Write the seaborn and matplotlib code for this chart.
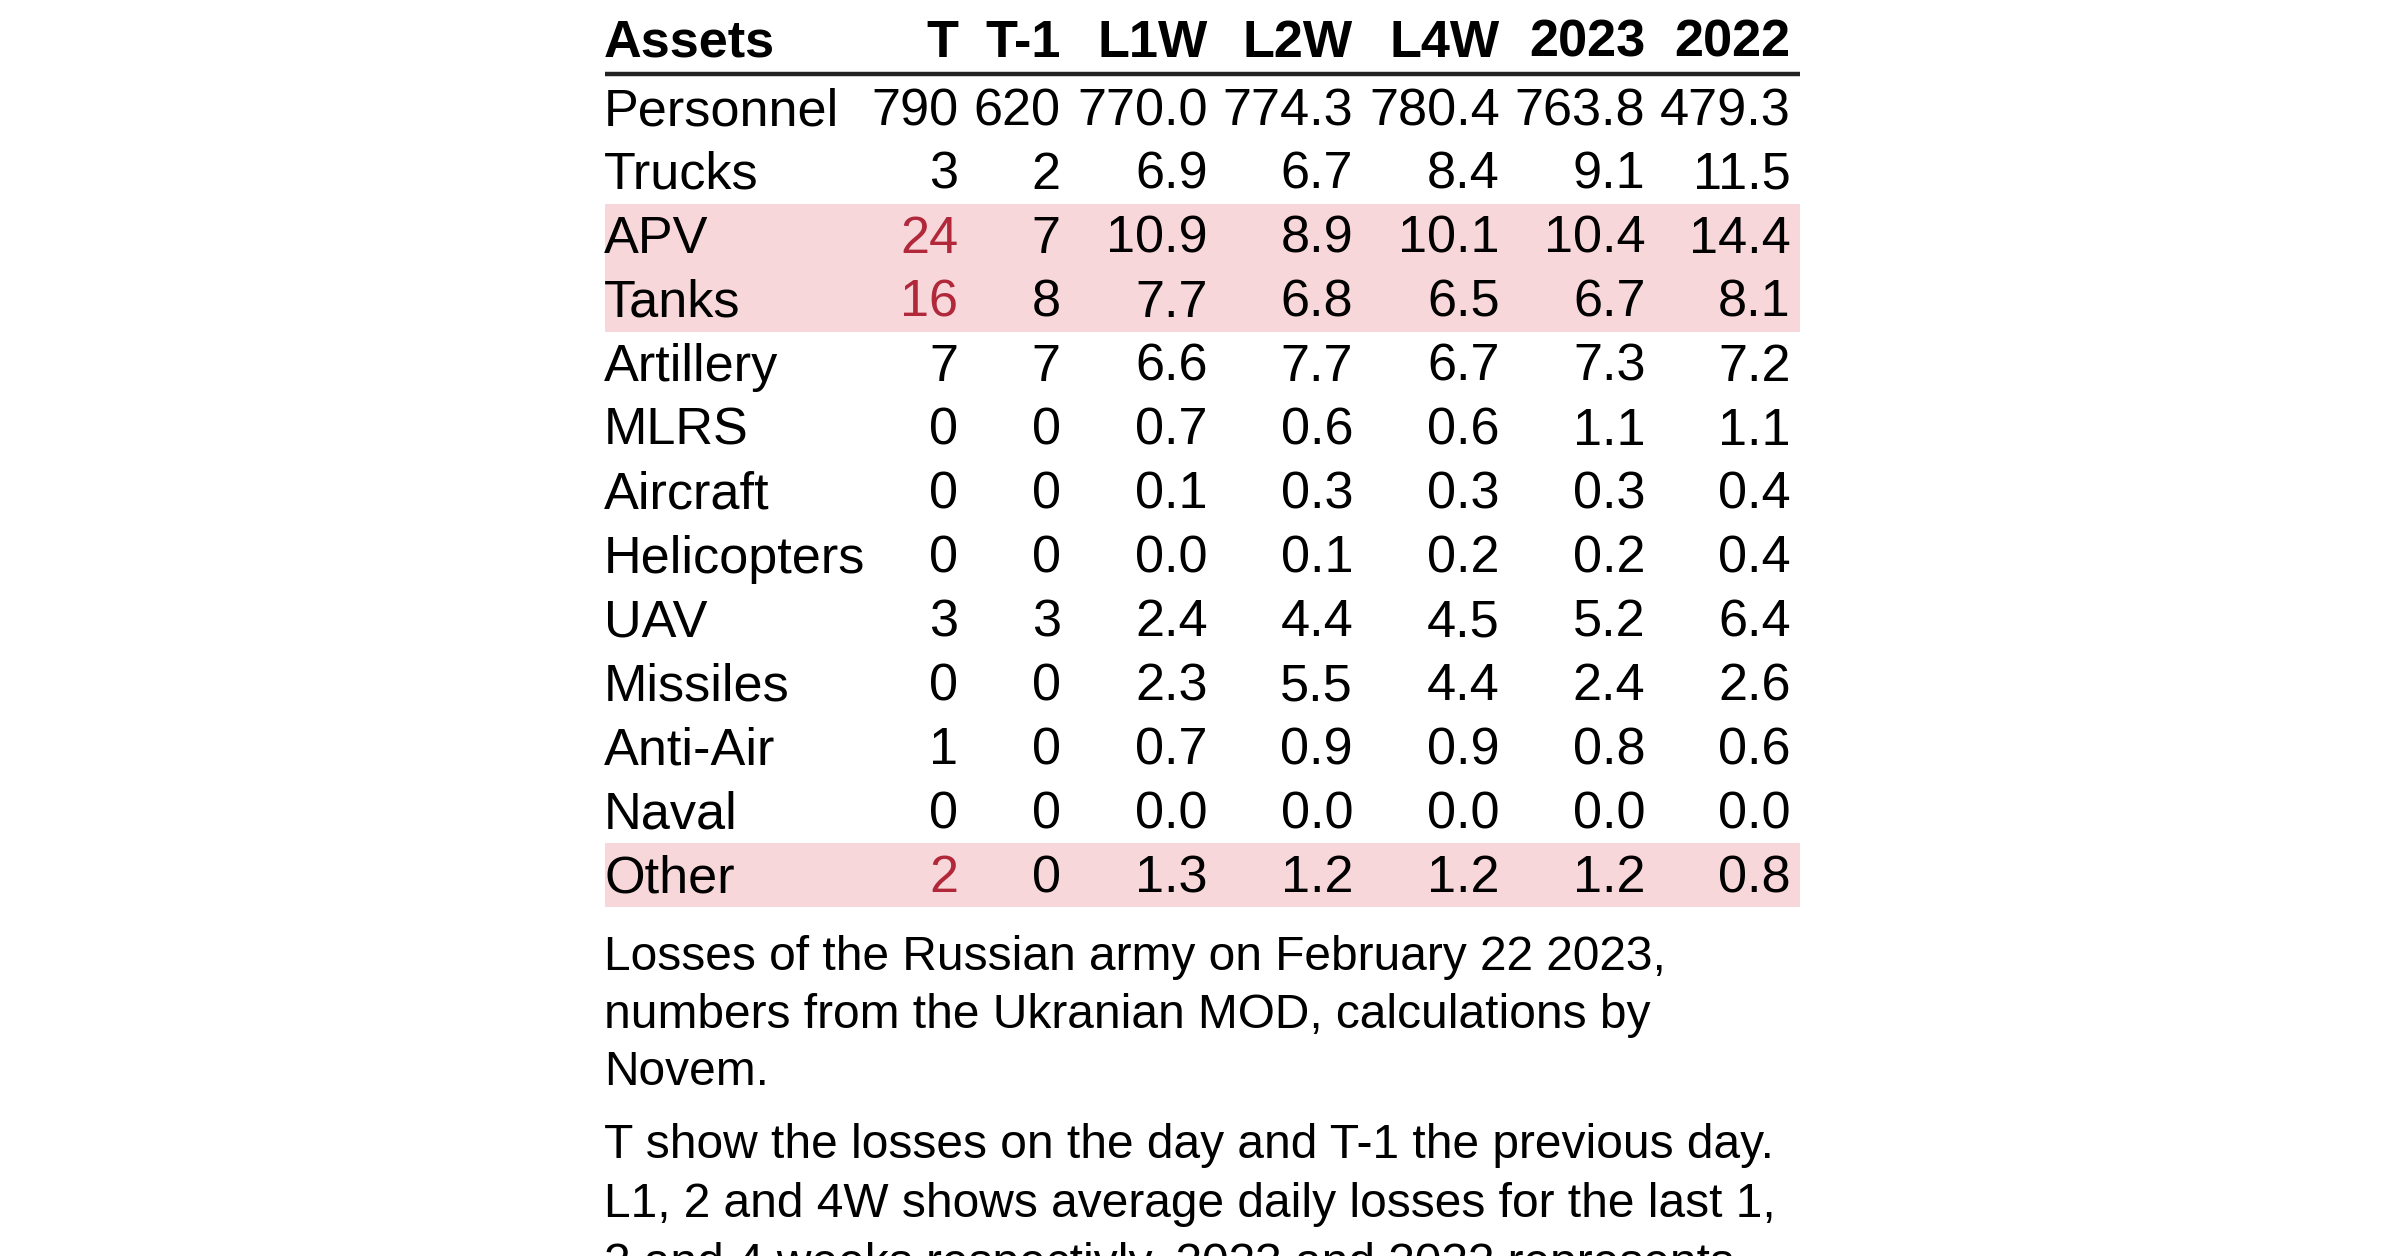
import numpy as np
import pandas as pd
import matplotlib
matplotlib.use("Agg")
import matplotlib.pyplot as plt
from matplotlib.colors import ListedColormap
import seaborn as sns

# ---------------- data ----------------
assets = ['Personnel', 'Trucks', 'APV', 'Tanks', 'Artillery', 'MLRS', 'Aircraft',
          'Helicopters', 'UAV', 'Missiles', 'Anti-Air', 'Naval', 'Other']
col_T = [790, 3, 24, 16, 7, 0, 0, 0, 3, 0, 1, 0, 2]
col_T1 = [620, 2, 7, 8, 7, 0, 0, 0, 3, 0, 0, 0, 0]
col_L1W = [770.0, 6.9, 10.9, 7.7, 6.6, 0.7, 0.1, 0.0, 2.4, 2.3, 0.7, 0.0, 1.3]
col_L2W = [774.3, 6.7, 8.9, 6.8, 7.7, 0.6, 0.3, 0.1, 4.4, 5.5, 0.9, 0.0, 1.2]
col_L4W = [780.4, 8.4, 10.1, 6.5, 6.7, 0.6, 0.3, 0.2, 4.5, 4.4, 0.9, 0.0, 1.2]
col_2023 = [763.8, 9.1, 10.4, 6.7, 7.3, 1.1, 0.3, 0.2, 5.2, 2.4, 0.8, 0.0, 1.2]
col_2022 = [479.3, 11.5, 14.4, 8.1, 7.2, 1.1, 0.4, 0.4, 6.4, 2.6, 0.6, 0.0, 0.8]
highlight = [0, 0, 1, 1, 0, 0, 0, 0, 0, 0, 0, 0, 1]
headers = ['Assets', 'T', 'T-1', 'L1W', 'L2W', 'L4W', '2023', '2022']
caption1 = ["Losses of the Russian army on February 22 2023,",
            "numbers from the Ukranian MOD, calculations by",
            "Novem."]
caption2 = ["T show the losses on the day and T-1 the previous day.",
            "L1, 2 and 4W shows average daily losses for the last 1,",
            "2 and 4 weeks respectivly. 2023 and 2022 represents"]

# ---------------- style ----------------
sns.set_theme(style="white")
plt.rcParams['font.family'] = ['Liberation Sans', 'DejaVu Sans']

PINK = '#f8d7da'
RED = '#b0283a'
TXT = '#000000'
FS = 18.8
FS_CAP = 17.25

W, H = 2400, 1256
fig = plt.figure(figsize=(W / 200, H / 200), dpi=200)
fig.patch.set_facecolor('white')

# table body in pixel layout
left_px, right_px = 604.6, 1800.0
top_px, bot_px = 75.8, 906.9
ax = fig.add_axes([left_px / W, 1 - bot_px / H,
                   (right_px - left_px) / W, (bot_px - top_px) / H])

df = pd.DataFrame({'hl': highlight}, index=assets)
sns.heatmap(df, ax=ax, cmap=ListedColormap(['white', PINK]), vmin=0, vmax=1,
            cbar=False, xticklabels=False, yticklabels=False, linewidths=0)
ax.set_xlim(0, 1)
ax.set_ylim(len(assets), 0)
for s in ax.spines.values():
    s.set_visible(False)
ax.tick_params(left=False, bottom=False)
ax.set_xlabel('')
ax.set_ylabel('')

# column right edges as fraction of table width
col_right = [0.2958, 0.3816, 0.5045, 0.6261, 0.7490, 0.8707, 0.9923]
columns = [col_T, col_T1, col_L1W, col_L2W, col_L4W, col_2023, col_2022]
fmts = ['{:d}', '{:d}', '{:.1f}', '{:.1f}', '{:.1f}', '{:.1f}', '{:.1f}']

BASE = 0.77
XL = -0.0005
# header
ax.text(XL, -0.30, headers[0], ha='left', va='baseline', fontsize=FS,
        fontweight='bold', color=TXT)
for h, xr in zip(headers[1:], col_right):
    ax.text(xr, -0.30, h, ha='right', va='baseline', fontsize=FS,
            fontweight='bold', color=TXT)
ax.plot([0, 1], [-0.035, -0.035], color='#222222', lw=1.6, clip_on=False,
        solid_capstyle='butt')

# body
for i, name in enumerate(assets):
    ax.text(XL, i + BASE, name, ha='left', va='baseline', fontsize=FS, color=TXT)
    for j, (vals, xr, f) in enumerate(zip(columns, col_right, fmts)):
        color = RED if (j == 0 and highlight[i]) else TXT
        ax.text(xr, i + BASE, f.format(vals[i]), ha='right', va='baseline',
                fontsize=FS, color=color)

# captions
y0 = 13.99
dy = 0.90
for k, line in enumerate(caption1):
    ax.text(XL, y0 + k * dy, line, ha='left', va='baseline',
            fontsize=FS_CAP, color=TXT)
y1 = 16.92
for k, line in enumerate(caption2):
    ax.text(XL, y1 + k * 0.935, line, ha='left', va='baseline',
            fontsize=FS_CAP, color=TXT)

fig.savefig('out.png', dpi=200, facecolor='white')
